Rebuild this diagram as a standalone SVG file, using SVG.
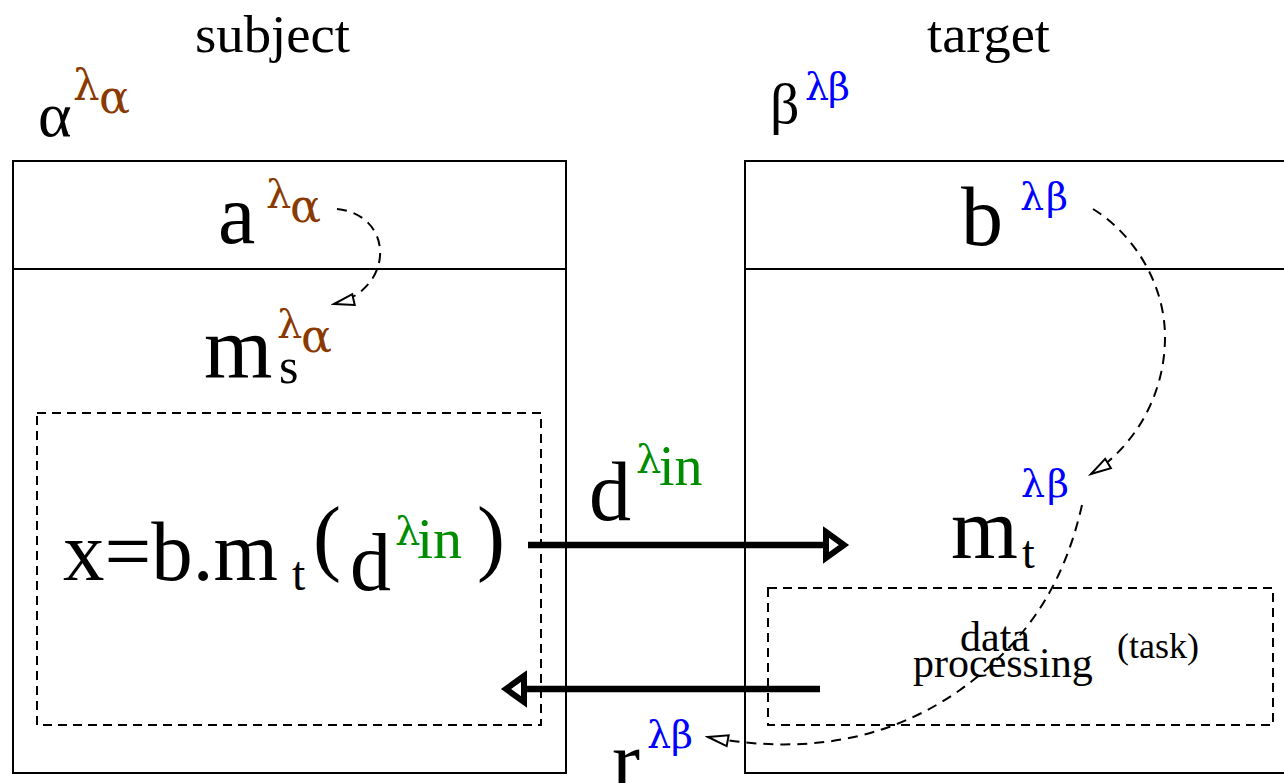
<svg xmlns="http://www.w3.org/2000/svg" width="1284" height="783" viewBox="0 0 1284 783">
<style>
text{font-family:"Liberation Serif","Times New Roman",serif;fill:#000}
.g{font-family:"DejaVu Serif","Liberation Serif",serif}
.br{fill:#8a3a00}
.bl{fill:#0000ff}
.gr{fill:#008c00}
.box{fill:none;stroke:#000;stroke-width:2}
.dbox{fill:none;stroke:#000;stroke-width:2;stroke-dasharray:9 6}
.dcurve{fill:none;stroke:#000;stroke-width:2;stroke-dasharray:10 7;marker-end:url(#open)}
.thick{fill:none;stroke:#000;stroke-width:6.5}
.head{fill:#fff;stroke:#000;stroke-width:6;stroke-linejoin:miter;stroke-miterlimit:10}
</style>
<defs>
<marker id="open" markerUnits="userSpaceOnUse" viewBox="-23 -8 26 16" refX="0" refY="0" markerWidth="26" markerHeight="16" orient="auto">
<path d="M0,0 L-20,-5.5 L-20,5.5 Z" fill="#fff" stroke="#000" stroke-width="2" stroke-linejoin="miter"/>
</marker>
</defs>
<rect width="1284" height="783" fill="#fff"/>

<g id="subject">
<text x="195" y="52" font-size="52" textLength="155" lengthAdjust="spacingAndGlyphs">subject</text>
<text x="38" y="136" font-size="64">α</text>
<text x="73" y="100" font-size="42" class="br g">λ</text>
<text x="99" y="113" font-size="46" class="br g">α</text>
<rect class="box" x="13" y="161" width="553" height="612"/>
<line class="box" x1="13" y1="269" x2="566" y2="269"/>
</g>

<g id="target">
<text x="927" y="52" font-size="52" textLength="123" lengthAdjust="spacingAndGlyphs">target</text>
<text x="770" y="123" font-size="58">β</text>
<text x="805" y="100" font-size="38" class="bl g">λ</text>
<text x="828" y="100" font-size="38" class="bl g">β</text>
<rect class="box" x="745" y="161" width="560" height="612"/>
<line class="box" x1="745" y1="269" x2="1290" y2="269"/>
</g>

<g id="node-a">
<text x="218" y="243" font-size="84">a</text>
<text x="266" y="208" font-size="40" class="br g">λ</text>
<text x="290" y="222" font-size="46" class="br g">α</text>
</g>

<g id="node-b">
<text x="961" y="245" font-size="84">b</text>
<text x="1020" y="210" font-size="38" class="bl g">λ</text>
<text x="1046" y="210" font-size="38" class="bl g">β</text>
</g>

<g id="node-ms">
<text x="204" y="378" font-size="88">m</text>
<text x="279" y="383" font-size="50">s</text>
<text x="277" y="338" font-size="40" class="br g">λ</text>
<text x="301" y="352" font-size="46" class="br g">α</text>
</g>

<g id="node-call">
<rect class="dbox" x="37" y="413" width="504" height="312"/>
<text x="63" y="580" font-size="84" textLength="215" lengthAdjust="spacingAndGlyphs">x=b.m</text>
<text x="292" y="590" font-size="48">t</text>
<text x="313" y="565" font-size="84">(</text>
<text x="350" y="590" font-size="82">d</text>
<text x="395" y="545" font-size="40" class="gr g">λ</text>
<text x="417" y="558" font-size="58" class="gr">in</text>
<text x="477" y="565" font-size="84">)</text>
</g>

<g id="node-mt">
<text x="951" y="558" font-size="86">m</text>
<text x="1022" y="568" font-size="46">t</text>
<text x="1021" y="497" font-size="38" class="bl g">λ</text>
<text x="1047" y="497" font-size="38" class="bl g">β</text>
</g>

<g id="node-task">
<rect class="dbox" x="768" y="588" width="505" height="137"/>
<text x="960" y="651" font-size="42">data</text>
<text x="913" y="677" font-size="42">processing</text>
<text x="1117" y="658" font-size="36">(task)</text>
</g>

<g id="label-d">
<text x="589" y="520" font-size="84">d</text>
<text x="636" y="473" font-size="40" class="gr g">λ</text>
<text x="659" y="485" font-size="56" class="gr">in</text>
</g>

<g id="label-r">
<text x="612" y="789" font-size="84">r</text>
<text x="647" y="748" font-size="38" class="bl g">λ</text>
<text x="671" y="748" font-size="38" class="bl g">β</text>
</g>

<g id="connectors">
<line class="thick" x1="528" y1="545" x2="826" y2="545"/>
<polygon class="head" points="826,532 844,545 826,558"/>
<line class="thick" x1="820" y1="689" x2="524" y2="689"/>
<polygon class="head" points="524,676 506,689 524,702"/>
<path class="dcurve" d="M337,209 C395,215 395,290 334,304"/>
<path class="dcurve" d="M1093,209 C1135,235 1165,285 1165,337 C1165,400 1130,450 1091,474"/>
<path class="dcurve" d="M1082,505 C1065,580 1030,640 960,690 C900,732 820,758 708,737"/>
</g>
</svg>
